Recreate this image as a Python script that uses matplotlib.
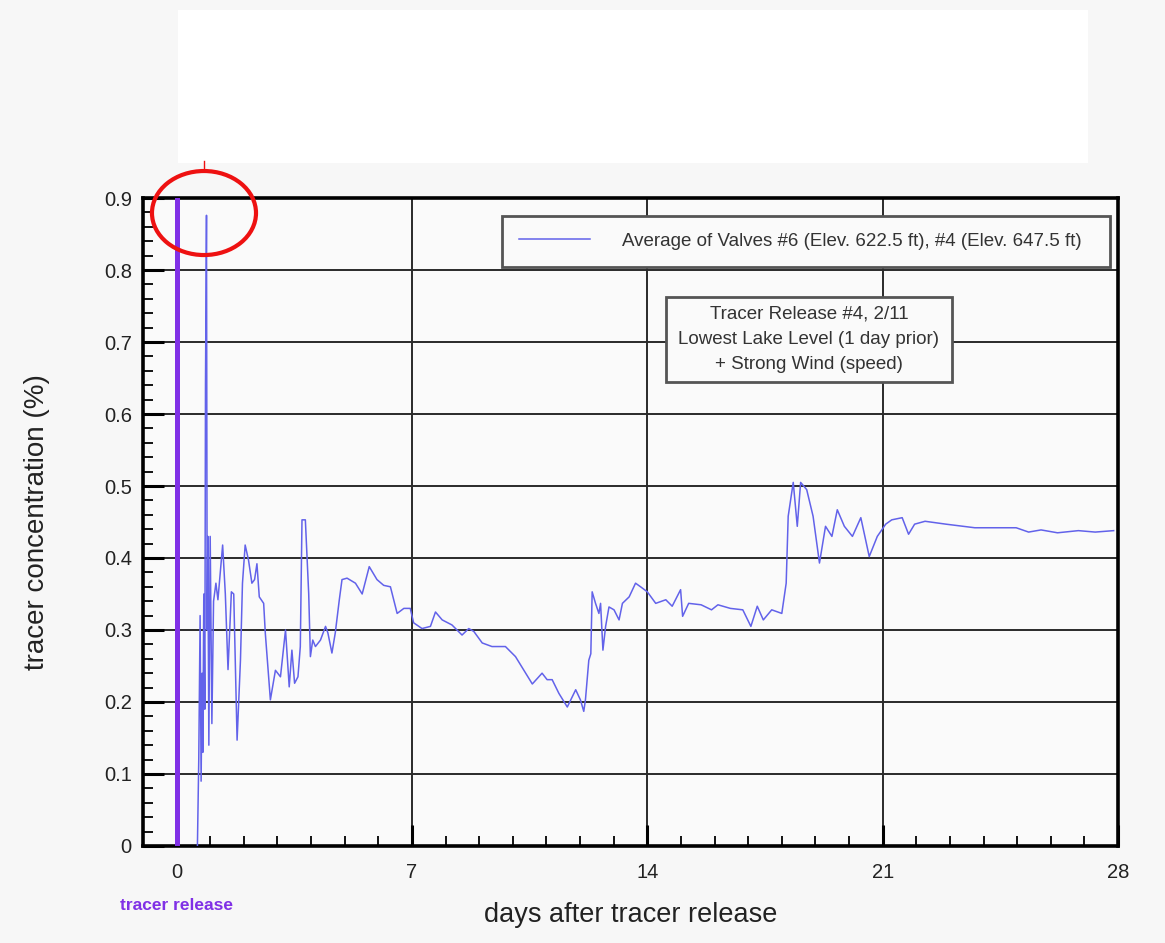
import matplotlib
matplotlib.use("Agg")
import matplotlib.pyplot as plt
from matplotlib.patches import Rectangle, Ellipse
from matplotlib.lines import Line2D
from matplotlib.ticker import MultipleLocator, FuncFormatter

plt.rcParams['font.family'] = ['Liberation Sans', 'DejaVu Sans']

# averaged tracer concentration
days = [0.62, 0.66, 0.70, 0.73, 0.76, 0.78, 0.81, 0.84, 0.86, 0.89,
        0.91, 0.93, 0.96, 1.00, 1.05, 1.10, 1.17, 1.23, 1.37, 1.45,
        1.53, 1.63, 1.70, 1.80, 1.90, 1.96, 2.04, 2.14, 2.24, 2.32,
        2.39, 2.46, 2.59, 2.64, 2.79, 2.94, 3.09, 3.24, 3.35, 3.43,
        3.51, 3.61, 3.68, 3.73, 3.83, 3.93, 3.98, 4.05, 4.13, 4.28,
        4.43, 4.50, 4.62, 4.72, 4.84, 4.92, 5.07, 5.32, 5.52, 5.73,
        5.96, 6.16, 6.36, 6.56, 6.76, 6.95, 7.05, 7.30, 7.55, 7.70,
        7.90, 8.19, 8.49, 8.69, 8.84, 9.09, 9.38, 9.78, 10.08, 10.33,
        10.58, 10.87, 11.02, 11.17, 11.37, 11.62, 11.87, 12.01, 12.11, 12.16,
        12.26, 12.32, 12.36, 12.46, 12.56, 12.61, 12.68, 12.76, 12.86, 13.01,
        13.16, 13.26, 13.46, 13.65, 13.80, 14.00, 14.25, 14.55, 14.74, 14.99,
        15.05, 15.23, 15.60, 15.91, 16.10, 16.47, 16.84, 17.08, 17.27, 17.45,
        17.70, 18.00, 18.13, 18.19, 18.34, 18.46, 18.56, 18.74, 18.93, 19.12,
        19.30, 19.49, 19.65, 19.86, 20.10, 20.35, 20.60, 20.84, 21.09, 21.27,
        21.58, 21.77, 21.95, 22.26, 22.88, 23.74, 24.97, 25.34, 25.71, 26.20,
        26.82, 27.32, 27.87]
conc = [0.00, 0.12, 0.32, 0.09, 0.24, 0.13, 0.35, 0.19, 0.64, 0.876,
        0.30, 0.43, 0.14, 0.43, 0.17, 0.34, 0.365, 0.342, 0.418, 0.35,
        0.245, 0.353, 0.35, 0.147, 0.258, 0.365, 0.418, 0.397, 0.365, 0.37,
        0.392, 0.346, 0.337, 0.295, 0.203, 0.244, 0.235, 0.30, 0.221, 0.272,
        0.226, 0.235, 0.277, 0.453, 0.453, 0.35, 0.263, 0.286, 0.277, 0.286,
        0.305, 0.296, 0.268, 0.296, 0.342, 0.37, 0.372, 0.365, 0.35, 0.388,
        0.37, 0.362, 0.36, 0.323, 0.33, 0.33, 0.31, 0.302, 0.305, 0.325,
        0.314, 0.307, 0.293, 0.302, 0.298, 0.282, 0.277, 0.277, 0.263, 0.244,
        0.225, 0.24, 0.231, 0.231, 0.212, 0.193, 0.217, 0.203, 0.187, 0.203,
        0.258, 0.267, 0.353, 0.337, 0.323, 0.337, 0.272, 0.305, 0.332, 0.328,
        0.314, 0.337, 0.346, 0.365, 0.36, 0.353, 0.337, 0.342, 0.333, 0.356,
        0.319, 0.337, 0.335, 0.328, 0.335, 0.33, 0.328, 0.305, 0.333, 0.314,
        0.328, 0.323, 0.365, 0.458, 0.505, 0.444, 0.505, 0.495, 0.458, 0.393,
        0.444, 0.43, 0.467, 0.444, 0.43, 0.456, 0.402, 0.43, 0.447, 0.453,
        0.456, 0.433, 0.447, 0.451, 0.447, 0.442, 0.442, 0.436, 0.439, 0.435,
        0.438, 0.436, 0.438]

x_ticks = [0, 7, 14, 21, 28]
release_day = 0
series_label = "Average of Valves #6 (Elev. 622.5 ft), #4 (Elev. 647.5 ft)"
note_lines = ["Tracer Release #4, 2/11",
              "Lowest Lake Level (1 day prior)",
              "+ Strong Wind (speed)"]

fig = plt.figure(figsize=(11.65, 9.43), dpi=100, facecolor='#f7f7f7')
# blank white panel above the plot
fig.add_artist(Rectangle((0.1528, 0.827), 0.781, 0.162, transform=fig.transFigure,
                         facecolor='white', edgecolor='none'))

ax = fig.add_axes([0.1227, 0.1029, 0.8370, 0.6871])
ax.set_facecolor('#fafafa')

ax.axvline(release_day, color='#8030e6', lw=3.6, zorder=3)
ax.plot(days, conc, color='#6262ea', lw=1.1, label=series_label, zorder=4)

ax.set_xlim(-1, 28)
ax.set_ylim(0, 0.9)
ax.set_xticks(x_ticks)
ax.xaxis.set_minor_locator(MultipleLocator(1))
ax.yaxis.set_major_locator(MultipleLocator(0.1))
ax.yaxis.set_minor_locator(MultipleLocator(0.02))
ax.yaxis.set_major_formatter(FuncFormatter(lambda v, p: '0' if abs(v) < 1e-9 else '%.1f' % v))

ax.grid(True, which='major', color='#2a2a2a', lw=1.4, zorder=1)
ax.set_axisbelow(True)
ax.tick_params(which='major', direction='in', length=15, width=2.2, color='black',
               labelsize=14.5, labelcolor='#222222')
ax.tick_params(which='minor', direction='in', length=7, width=1.3, color='black')
ax.tick_params(axis='y', which='major', pad=8)
ax.tick_params(axis='x', which='major', pad=12)
for s in ax.spines.values():
    s.set_linewidth(2.6)
    s.set_color('black')

ax.set_xlabel("days after tracer release", fontsize=19.5, color='#222222', labelpad=15)
ax.set_ylabel("tracer concentration (%)", fontsize=20, color='#222222', labelpad=39)

ax.text(release_day, -0.083, "tracer release", color='#8030e6', fontsize=12.5,
        fontweight='bold', ha='center', va='center')

leg = ax.legend(loc='center', bbox_to_anchor=(0.368, 0.889, 0.624, 0.088), mode='expand',
                fontsize=13.5, frameon=True, fancybox=False, handlelength=3.8,
                handletextpad=1.7, borderpad=0.9, borderaxespad=0)
leg.get_frame().set_edgecolor('#555555')
leg.get_frame().set_linewidth(2)
leg.get_frame().set_facecolor('#fafafa')
leg.get_frame().set_alpha(1)
for t in leg.get_texts():
    t.set_color('#333333')

ax.add_patch(Rectangle((0.5364, 0.716), 0.2933, 0.1312, transform=ax.transAxes,
                       facecolor='#fafafa', edgecolor='#555555', lw=2, zorder=5))
ax.text(0.683, 0.782, "\n".join(note_lines), transform=ax.transAxes, ha='center',
        va='center', fontsize=13.5, color='#333333', linespacing=1.6, zorder=6)

# red highlight circle around the peak
fig.add_artist(Ellipse((0.1751, 0.7741), 0.0893, 0.0891, transform=fig.transFigure,
                       facecolor='none', edgecolor='#ee1111', lw=3))
fig.add_artist(Line2D([0.1751, 0.1751], [0.8187, 0.8293], transform=fig.transFigure,
                      color='#ee1111', lw=1))

fig.savefig("out.png", dpi=100, facecolor=fig.get_facecolor())
